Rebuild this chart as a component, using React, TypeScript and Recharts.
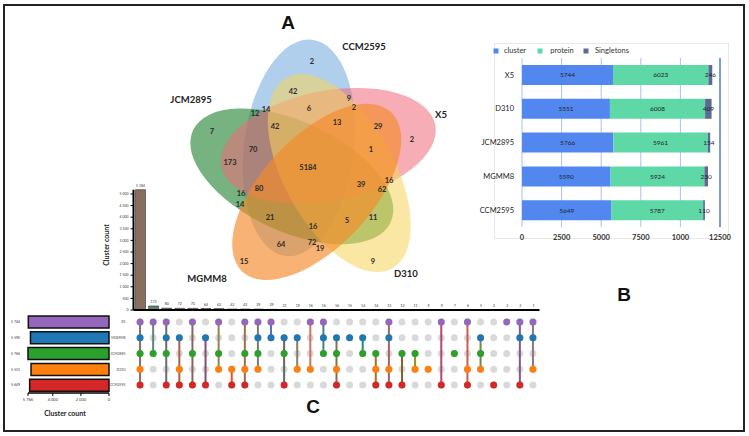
import React from 'react';
import {
  BarChart, Bar, XAxis, YAxis, CartesianGrid, LabelList, ReferenceLine, Cell,
  ScatterChart, Scatter,
} from 'recharts';

const W = 749;
const H = 436;

// sets used by the Venn diagram and the UpSet plot
const SETS = ['X5', 'MGMM8', 'JCM2895', 'D310', 'CCM2595'];
const SET_SIZES = [5744, 5590, 5766, 5551, 5649];
const SET_COLORS = ['#9467bd', '#1f77b4', '#2ca02c', '#ff7f0e', '#d62728'];

// membership of each intersection, same order as SETS
const COMBOS = [
  '11111', '10100', '11101', '01011', '10101', '01001', '10110', '00011', '10111', '11110',
  '11000', '01101', '01010', '10010', '11100', '01111', '01000', '01100', '00111', '11011',
  '00101', '00110', '00010', '10001', '00100', '10011', '01110', '00001', '10000', '11001', '11010',
];
const COMBO_COUNTS = [
  5184, 173, 80, 72, 70, 64, 62, 42, 42, 39, 29, 21, 19, 16, 16, 16, 15, 14, 14, 13, 12, 11,
  9, 9, 7, 6, 5, 2, 2, 2, 1,
];
const COUNT_TICKS = [0, 500, 1000, 1500, 2000, 2500, 3000, 3500, 4000, 4500, 5000];
const SIZE_TICKS = [0, 2000, 4000, 5766];

// panel B
const B_STRAINS = ['X5', 'D310', 'JCM2895', 'MGMM8', 'CCM2595'];
const B_CLUSTER = [5744, 5551, 5766, 5590, 5649];
const B_PROTEIN = [6023, 6008, 5961, 5924, 5787];
const B_SINGLETONS = [246, 409, 154, 230, 110];
const B_TICKS = [0, 2500, 5000, 7500, 10000, 12500];
const B_TICK_LABELS = ['0', '2500', '5000', '7500', '1000', '12500'];

// venn layout (pixels)
const VENN_CENTER = [315, 167];
const VENN_ORDER = [4, 0, 3, 1, 2]; // CCM2595, X5, D310, MGMM8, JCM2895 around the pentagon
const VENN_FILL = ['#ee6a7a', '#f58a2a', '#2e8b3e', '#f7d35a', '#6fa8dc'];
const VENN_OPACITY = [0.55, 0.65, 0.65, 0.55, 0.55];
const VENN_DRAW = [4, 2, 0, 3, 1];
const VENN_LABEL_XY = [
  [308, 167], [230, 162], [259, 188], [312, 242], [253, 149], [281, 244], [382, 189],
  [293, 91], [275, 126], [361, 184], [378, 126], [270, 217], [320, 248], [389, 180],
  [241, 193], [313, 226], [244, 261], [240, 204], [266, 109], [337, 122], [255, 113],
  [373, 217], [373, 261], [349, 98], [212, 131], [309, 108], [347, 220], [312, 61],
  [412, 139], [354, 107], [371, 149],
];

const fmt = (n: number) => String(n).replace(/\B(?=(\d{3})+(?!\d))/g, '\u00a0');

const blend = (mask: string) => {
  const idx = mask.split('').map((c, i) => (c === '1' ? i : -1)).filter((i) => i >= 0);
  const rgb = [0, 0, 0];
  idx.forEach((i) => {
    const h = SET_COLORS[i];
    rgb[0] += parseInt(h.slice(1, 3), 16);
    rgb[1] += parseInt(h.slice(3, 5), 16);
    rgb[2] += parseInt(h.slice(5, 7), 16);
  });
  return `rgb(${rgb.map((v) => Math.round(v / idx.length)).join(',')})`;
};

const ellipses = VENN_DRAW.map((s) => {
  const k = VENN_ORDER.indexOf(s);
  const th = ((-130 + 72 * k) * Math.PI) / 180;
  return {
    x: VENN_CENTER[0] + 25 * Math.cos(th),
    y: VENN_CENTER[1] + 25 * Math.sin(th),
    angle: -130 + 72 * k + 47,
    set: s,
  };
});

const vennLabels = COMBO_COUNTS.map((c, i) => ({ x: VENN_LABEL_XY[i][0], y: VENN_LABEL_XY[i][1], count: c }));

const upsetBars = COMBOS.map((m, i) => ({ key: i, count: COMBO_COUNTS[i], mask: m }));
const gridPts = COMBOS.flatMap((_, c) => SETS.map((_, r) => ({ x: c, y: r })));
const memberPts = COMBOS.map((m, c) =>
  m.split('').map((b, r) => (b === '1' ? { x: c, y: r } : null)).filter(Boolean) as { x: number; y: number }[]
);
const setRows = SETS.map((s, i) => ({ name: s, size: SET_SIZES[i], label: fmt(SET_SIZES[i]) }));
const bRows = B_STRAINS.map((s, i) => ({
  name: s, cluster: B_CLUSTER[i], protein: B_PROTEIN[i], singletons: B_SINGLETONS[i],
}));

const B_COLORS = { cluster: '#5287f0', protein: '#5fd8a8', singletons: '#5b6b94' };

const EllipseShape = (p: any) => (
  <ellipse
    cx={p.cx}
    cy={p.cy}
    rx={109}
    ry={55}
    transform={`rotate(${p.payload.angle} ${p.cx} ${p.cy})`}
    fill={VENN_FILL[p.payload.set]}
    fillOpacity={VENN_OPACITY[p.payload.set]}
  />
);

const VennText = (p: any) => (
  <text x={p.cx} y={p.cy} textAnchor="middle" dominantBaseline="central" fontSize={7.5} fontWeight={700} fill="#2a2a2a">
    {p.payload.count}
  </text>
);

const GreyDot = (p: any) => <circle cx={p.cx} cy={p.cy} r={3.5} fill="#d9d9d9" />;
const ColorDot = (p: any) => <circle cx={p.cx} cy={p.cy} r={3.5} fill={SET_COLORS[p.payload.y]} />;

const abs = (x: number, y: number, extra: React.CSSProperties = {}): React.CSSProperties => ({
  position: 'absolute', left: x, top: y, transform: 'translate(-50%, -50%)', whiteSpace: 'nowrap', ...extra,
});

const layer: React.CSSProperties = { position: 'absolute', left: 0, top: 0 };

export default function App() {
  const setName = { fontSize: 9.5, fontWeight: 700, color: '#222' };
  const letter = { fontSize: 19, fontWeight: 700, fontFamily: '"Liberation Sans", Arial, sans-serif', color: '#111' };
  return (
    <div style={{ position: 'absolute', left: 0, top: 0, width: W, height: H, background: '#fff', fontFamily: 'Lato, "Open Sans", sans-serif' }}>
      <div style={{ position: 'absolute', left: 3, top: 4, width: 742, height: 428, border: '2px solid #222', boxSizing: 'border-box' }} />
      <div style={{ position: 'absolute', left: 494, top: 43, width: 235, height: 196, border: '1px solid #e8e8e8', boxSizing: 'border-box' }} />

      {/* A: Venn */}
      <div style={layer}>
        <ScatterChart width={W} height={H} margin={{ top: 0, right: 0, bottom: 0, left: 0 }}>
          <XAxis type="number" dataKey="x" domain={[0, W]} hide />
          <YAxis type="number" dataKey="y" domain={[0, H]} reversed hide />
          <Scatter data={ellipses} shape={EllipseShape} isAnimationActive={false} />
          <Scatter data={vennLabels} shape={VennText} isAnimationActive={false} />
        </ScatterChart>
      </div>

      {/* C: intersection sizes */}
      <div style={layer}>
        <BarChart width={W} height={H} data={upsetBars} margin={{ top: 189.7, right: W - 539.5, bottom: 125, left: 103.5 }} barSize={10}>
          <XAxis dataKey="key" type="category" tick={false} tickLine={false} height={1} axisLine={{ stroke: '#000', strokeWidth: 2 }} />
          <YAxis
            type="number"
            domain={[0, 5184]}
            ticks={COUNT_TICKS}
            tickFormatter={fmt}
            width={30}
            interval={0}
            axisLine={{ stroke: '#000', strokeWidth: 2 }}
            tickLine={{ stroke: '#000' }}
            tickSize={3}
            tick={{ fontSize: 3.5, fill: '#333' }}
          />
          <Bar dataKey="count" isAnimationActive={false} stroke="#333" strokeWidth={0.6}>
            {upsetBars.map((d) => (
              <Cell key={d.key} fill={blend(d.mask)} />
            ))}
            <LabelList dataKey="count" position="top" offset={3} formatter={(v: any) => fmt(Number(v))} style={{ fontSize: 3.5, fill: '#333' }} />
          </Bar>
        </BarChart>
      </div>

      {/* C: membership matrix */}
      <div style={layer}>
        <ScatterChart width={W} height={H} margin={{ top: 314, right: W - 539.5, bottom: 43, left: 111.5 }}>
          <XAxis type="number" dataKey="x" domain={[-0.5, 30.5]} hide />
          <YAxis
            type="number"
            dataKey="y"
            domain={[-0.5, 4.5]}
            reversed
            ticks={[0, 1, 2, 3, 4]}
            interval={0}
            tickFormatter={(v: number) => SETS[v]}
            width={22}
            axisLine={false}
            tickLine={false}
            tick={{ fontSize: 3.5, fill: '#444' }}
          />
          <Scatter data={gridPts} shape={GreyDot} isAnimationActive={false} />
          {memberPts.map((pts, c) => (
            <Scatter
              key={c}
              data={pts}
              line={{ stroke: blend(COMBOS[c]), strokeWidth: 2 }}
              shape={ColorDot}
              isAnimationActive={false}
            />
          ))}
        </ScatterChart>
      </div>

      {/* C: set sizes */}
      <div style={layer}>
        <BarChart layout="vertical" width={W} height={H} data={setRows} margin={{ top: 314, right: W - 109, bottom: 13, left: 8 }} barSize={12}>
          <XAxis
            type="number"
            reversed
            domain={[0, 5766]}
            ticks={SIZE_TICKS}
            interval={0}
            tickFormatter={fmt}
            height={30}
            axisLine={{ stroke: '#000', strokeWidth: 1.5 }}
            tickLine={{ stroke: '#000' }}
            tickSize={3}
            tick={{ fontSize: 4, fill: '#333' }}
          />
          <YAxis type="category" dataKey="label" width={20} axisLine={false} tickLine={false} tick={{ fontSize: 3.5, fill: '#333' }} />
          <Bar dataKey="size" isAnimationActive={false} stroke="#111" strokeWidth={1.5}>
            {setRows.map((d, i) => (
              <Cell key={d.name} fill={SET_COLORS[i]} />
            ))}
          </Bar>
        </BarChart>
      </div>

      {/* B: stacked bars */}
      <div style={layer}>
        <BarChart layout="vertical" width={W} height={H} data={bRows} margin={{ top: 58, right: 29, bottom: 191, left: 477 }} barSize={20}>
          <CartesianGrid horizontal={false} stroke="#a9c1ee" />
          <XAxis
            type="number"
            domain={[0, 12500]}
            ticks={B_TICKS}
            interval={0}
            tickFormatter={(_v: number, i: number) => B_TICK_LABELS[i]}
            axisLine={false}
            tickLine={false}
            height={18}
            tick={{ fontSize: 7.5, fill: '#333', fontWeight: 700 }}
          />
          <YAxis type="category" dataKey="name" width={45} axisLine={false} tickLine={false} tick={{ fontSize: 7.5, fill: '#222' }} />
          <ReferenceLine x={12500} stroke="#3f6fd0" strokeWidth={1.2} />
          <Bar dataKey="cluster" stackId="a" fill={B_COLORS.cluster} isAnimationActive={false}>
            <LabelList dataKey="cluster" position="center" style={{ fontSize: 6.5, fill: '#222' }} />
          </Bar>
          <Bar dataKey="protein" stackId="a" fill={B_COLORS.protein} isAnimationActive={false}>
            <LabelList dataKey="protein" position="center" style={{ fontSize: 6.5, fill: '#222' }} />
          </Bar>
          <Bar dataKey="singletons" stackId="a" fill={B_COLORS.singletons} isAnimationActive={false}>
            <LabelList dataKey="singletons" position="center" style={{ fontSize: 6.5, fill: '#222' }} />
          </Bar>
        </BarChart>
      </div>

      {/* B legend */}
      {([['cluster', 496, 515], ['protein', 540, 562], ['singletons', 586, 612]] as [keyof typeof B_COLORS, number, number][]).map(([k, ix, tx]) => (
        <React.Fragment key={k}>
          <div style={abs(ix, 51, { width: 5, height: 5, background: B_COLORS[k] })} />
          <div style={abs(tx, 50, { fontSize: 7.5, color: '#333' })}>{k === 'singletons' ? 'Singletons' : k}</div>
        </React.Fragment>
      ))}

      {/* texts */}
      <div style={abs(288, 23, letter)}>A</div>
      <div style={abs(624, 295, letter)}>B</div>
      <div style={abs(313, 407, letter)}>C</div>
      <div style={abs(364, 46, setName)}>CCM2595</div>
      <div style={abs(191, 99, setName)}>JCM2895</div>
      <div style={abs(441, 114, setName)}>X5</div>
      <div style={abs(207, 278, setName)}>MGMM8</div>
      <div style={abs(406, 273, setName)}>D310</div>
      <div style={abs(106, 245, { fontSize: 7, fontWeight: 700, color: '#222', transform: 'translate(-50%, -50%) rotate(-90deg)' })}>Cluster count</div>
      <div style={abs(65, 413, { fontSize: 7, fontWeight: 700, color: '#222' })}>Cluster count</div>
    </div>
  );
}
